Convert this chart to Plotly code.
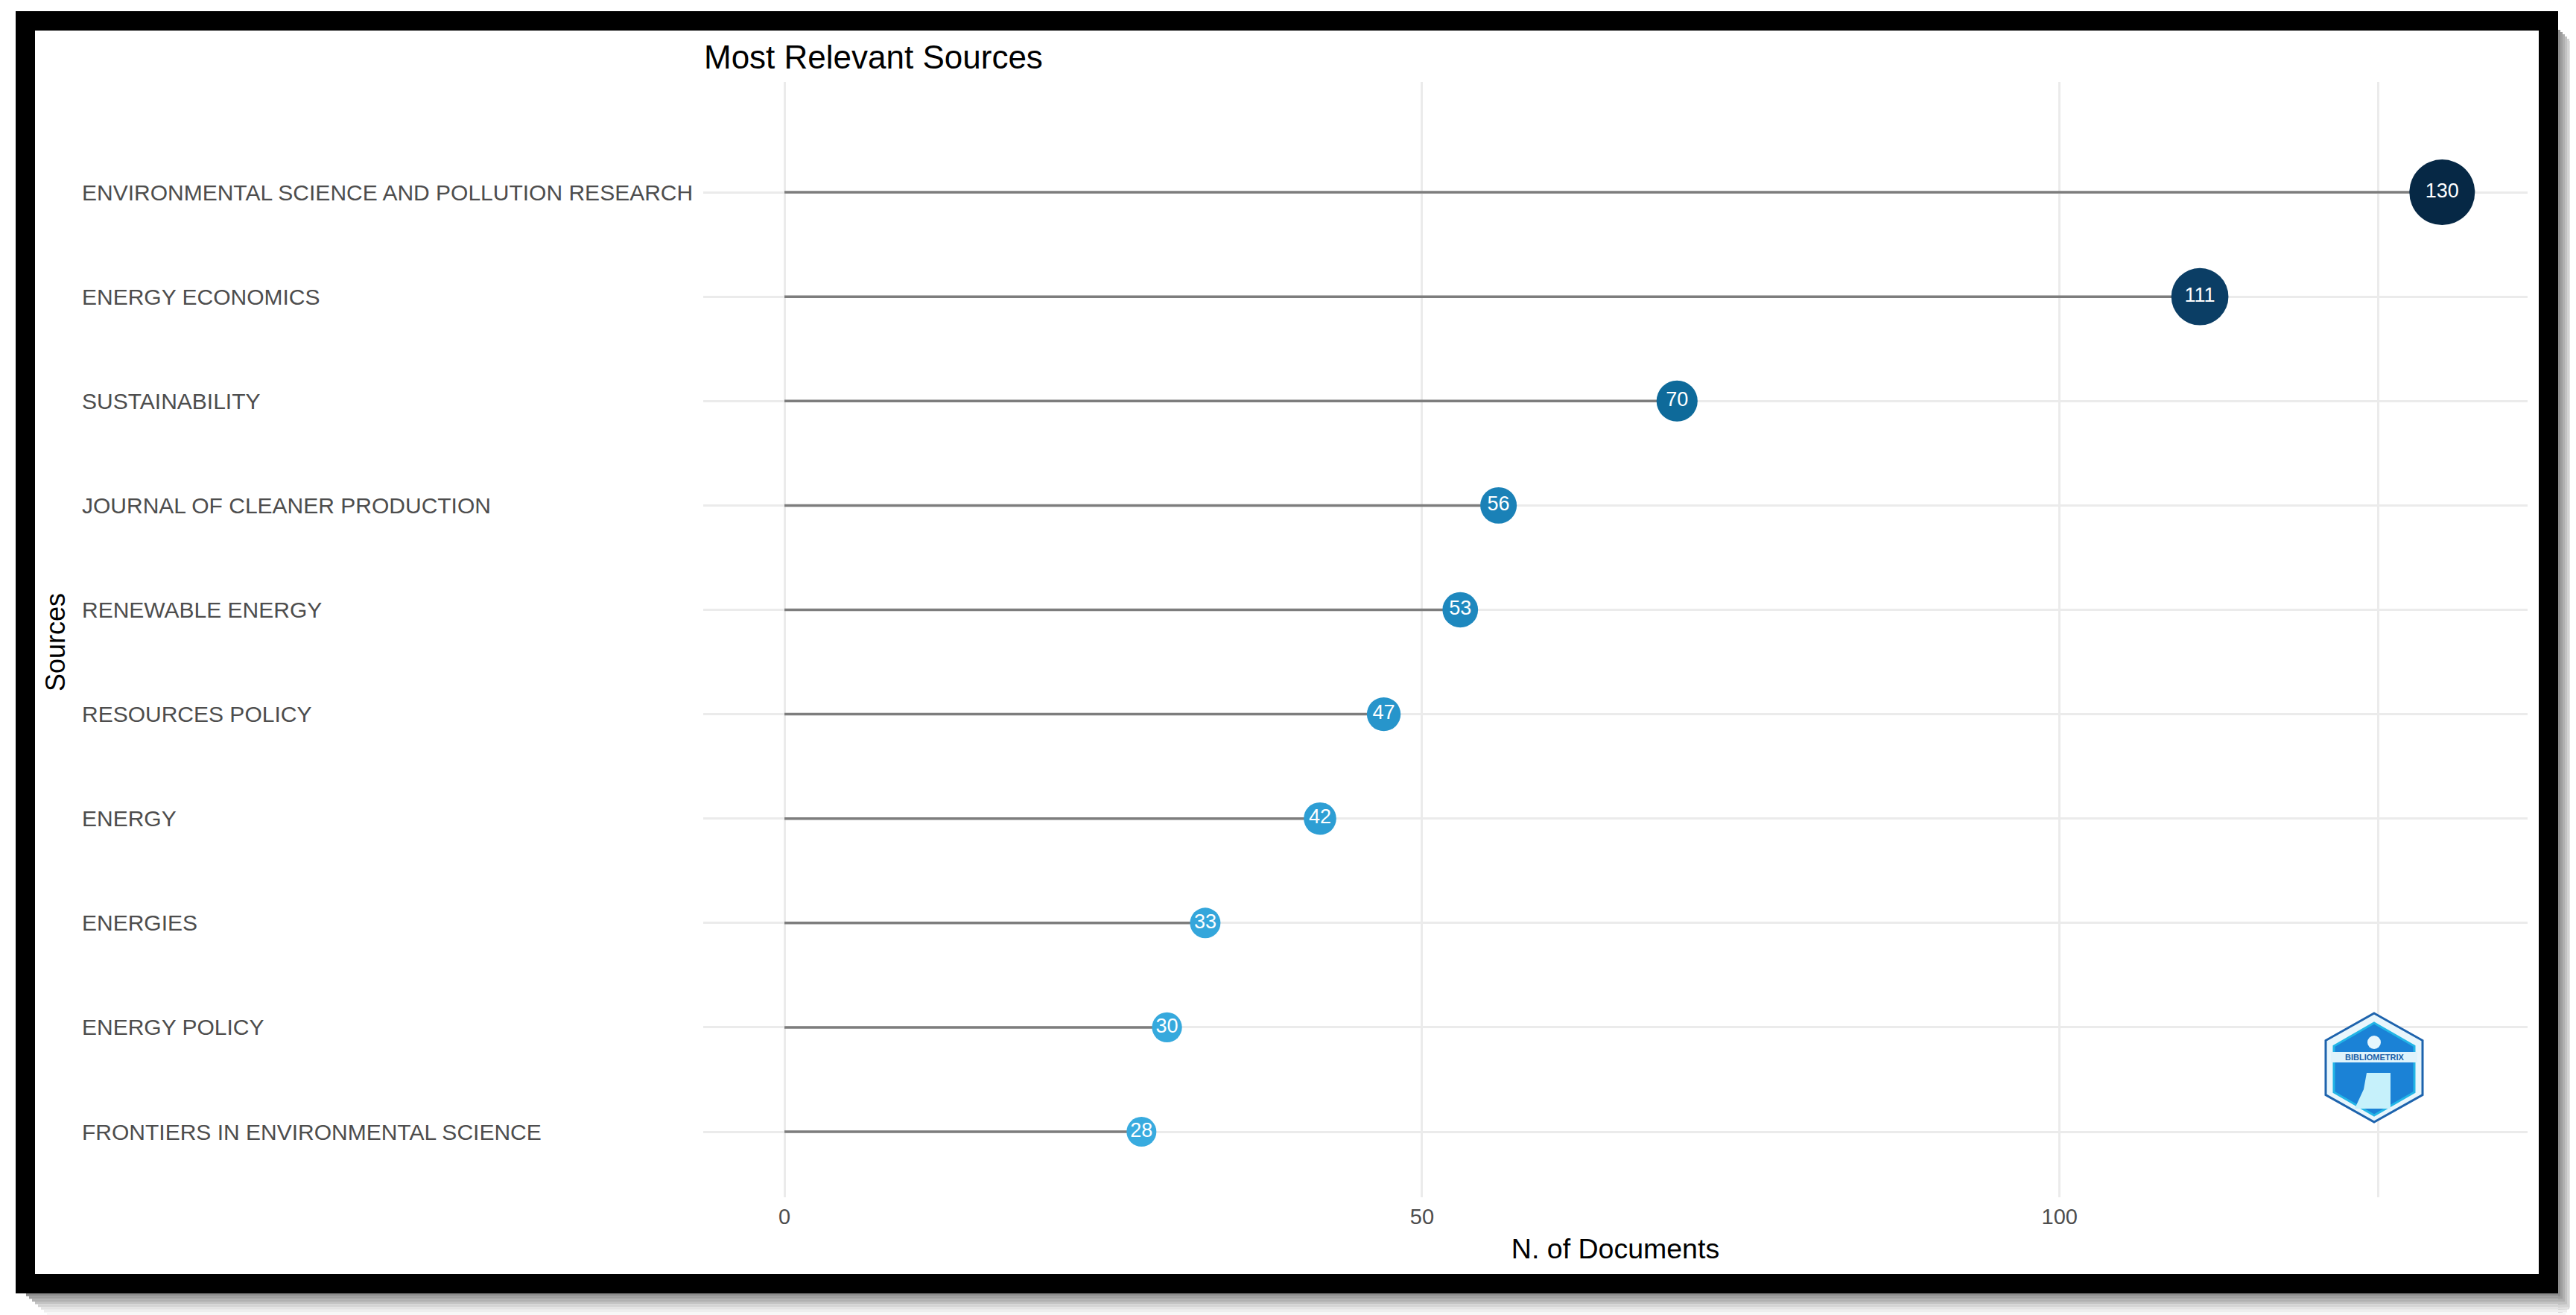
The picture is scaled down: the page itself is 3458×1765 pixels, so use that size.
import plotly.graph_objects as go

# ---------------- data ----------------
sources = [
    "ENVIRONMENTAL SCIENCE AND POLLUTION RESEARCH",
    "ENERGY ECONOMICS",
    "SUSTAINABILITY",
    "JOURNAL OF CLEANER PRODUCTION",
    "RENEWABLE ENERGY",
    "RESOURCES POLICY",
    "ENERGY",
    "ENERGIES",
    "ENERGY POLICY",
    "FRONTIERS IN ENVIRONMENTAL SCIENCE",
]
documents = [130, 111, 70, 56, 53, 47, 42, 33, 30, 28]
x_ticks = [0, 50, 100, 125]
x_tick_labels = ["0", "50", "100", ""]

# ---------------- geometry helpers (reference pixel -> paper) ----------------
PAGE_W, PAGE_H = 3458, 1765
OFF = 8  # browser default body margin
W, H = PAGE_W - OFF, PAGE_H - OFF
L, R, T, B = 944, 3393, 110, 1607
PW, PH = R - L, B - T


def px(x):
    return (x - L) / PW


def py(y):
    return (B - y) / PH


FONT = "Liberation Sans, Arial, sans-serif"

vmin, vmax = min(documents), max(documents)
sizes = [40 + 48 * ((v - vmin) / (vmax - vmin)) ** 1.3 for v in documents]

# lollipop stems
seg_x, seg_y = [], []
for s, v in zip(sources, documents):
    seg_x += [0, v, None]
    seg_y += [s, s, None]

fig = go.Figure()
fig.add_trace(go.Scatter(
    x=seg_x, y=seg_y, mode="lines",
    line=dict(color="#7d7d7d", width=3.5),
    hoverinfo="skip", showlegend=False,
))
fig.add_trace(go.Scatter(
    x=documents, y=sources, mode="markers+text",
    text=[str(v) for v in documents],
    textposition="middle center",
    textfont=dict(color="white", size=27, family=FONT),
    marker=dict(
        size=sizes, sizemode="diameter",
        color=documents, cmin=vmin, cmax=vmax,
        colorscale=[[0.0, "#38abdf"], [0.15, "#2c9dd3"], [0.27, "#1a82b8"],
                    [0.41, "#0e6a9a"], [0.81, "#0b3e66"], [1.0, "#062845"]],
        line=dict(width=0), opacity=1,
    ),
    showlegend=False,
))

# source labels (left aligned, like the reference)
annotations = []
for s in sources:
    annotations.append(dict(
        x=px(108), y=s, xref="paper", yref="y", text=s, showarrow=False,
        xanchor="left", yanchor="middle",
        font=dict(size=30, color="#4d4d4d", family=FONT),
    ))
annotations.append(dict(
    x=px(74), y=py(862), xref="paper", yref="paper", text="Sources",
    showarrow=False, textangle=-90, xanchor="center", yanchor="middle",
    font=dict(size=36, color="black", family=FONT),
))

shapes = []
# shadow (gradient strips)
shadow_cols = ["#8c8c8c", "#9e9e9e", "#b0b0b0", "#c2c2c2", "#d3d3d3", "#e2e2e2", "#eeeeee", "#f7f7f7"]
n = len(shadow_cols)
for i, c in enumerate(shadow_cols):
    x0 = 3434 + i * (24 / n)
    x1 = 3434 + (i + 1) * (24 / n)
    shapes.append(dict(type="rect", xref="paper", yref="paper",
                       x0=px(x0), x1=px(x1), y0=py(40 + i * 3), y1=py(1736 + 29 - 2 * i),
                       fillcolor=c, line=dict(width=0), layer="above"))
    y0 = 1736 + i * (29 / n)
    y1 = 1736 + (i + 1) * (29 / n)
    shapes.append(dict(type="rect", xref="paper", yref="paper",
                       x0=px(35 + i * 4), x1=px(3434 + 24 - i * 2), y0=py(y0), y1=py(y1),
                       fillcolor=c, line=dict(width=0), layer="above"))
# black frame
for (x0, y0, x1, y1) in [(21, 15, 3434, 41), (21, 1710, 3434, 1736),
                         (21, 15, 47, 1736), (3408, 15, 3434, 1736)]:
    shapes.append(dict(type="rect", xref="paper", yref="paper",
                       x0=px(x0), x1=px(x1), y0=py(y0), y1=py(y1),
                       fillcolor="black", line=dict(width=0), layer="above"))


# logo (approximate bibliometrix hexagon)
def hexpath(cx, cy, w, h):
    pts = [(cx, cy - h / 2), (cx + w / 2, cy - h / 4), (cx + w / 2, cy + h / 4),
           (cx, cy + h / 2), (cx - w / 2, cy + h / 4), (cx - w / 2, cy - h / 4)]
    return "M " + " L ".join(f"{px(a):.5f},{py(b):.5f}" for a, b in pts) + " Z"


cx, cy = 3187, 1433
shapes.append(dict(type="path", xref="paper", yref="paper", path=hexpath(cx, cy, 130, 146),
                   fillcolor="#e8f6fc", line=dict(color="#1d63ad", width=3), layer="above"))
shapes.append(dict(type="path", xref="paper", yref="paper", path=hexpath(cx, cy + 2, 108, 124),
                   fillcolor="#1b82d6", line=dict(color="#22b5e6", width=3), layer="above"))
shapes.append(dict(type="rect", xref="paper", yref="paper",
                   x0=px(cx - 58), x1=px(cx + 58), y0=py(1412), y1=py(1426),
                   fillcolor="#dff3fb", line=dict(width=0), layer="above"))
shapes.append(dict(type="path", xref="paper", yref="paper",
                   path=(f"M {px(cx-10):.5f},{py(1440):.5f} L {px(cx+22):.5f},{py(1440):.5f} "
                         f"L {px(cx+22):.5f},{py(1488):.5f} L {px(cx-26):.5f},{py(1488):.5f} "
                         f"L {px(cx-14):.5f},{py(1462):.5f} Z"),
                   fillcolor="#c6f1fb", line=dict(width=0), layer="above"))
shapes.append(dict(type="circle", xref="paper", yref="paper",
                   x0=px(cx - 9), x1=px(cx + 9), y0=py(1390), y1=py(1408),
                   fillcolor="#e6f7fd", line=dict(width=0), layer="above"))
annotations.append(dict(x=px(cx), y=py(1419), xref="paper", yref="paper",
                        text="<b>BIBLIOMETRIX</b>", showarrow=False,
                        xanchor="center", yanchor="middle",
                        font=dict(size=11, color="#1a5fa8", family=FONT)))

fig.update_layout(
    width=W, height=H,
    margin=dict(l=L - OFF, r=PAGE_W - R, t=T - OFF, b=PAGE_H - B, autoexpand=False),
    paper_bgcolor="white", plot_bgcolor="white",
    title=dict(text="Most Relevant Sources", x=(945 - OFF) / W, xanchor="left", xref="container",
               y=1 - (77 - OFF) / H, yanchor="middle", yref="container",
               font=dict(size=44, color="black", family=FONT)),
    xaxis=dict(
        range=[-6.37, 136.7], tickvals=x_ticks, ticktext=x_tick_labels,
        showgrid=True, gridcolor="#ebebeb", gridwidth=3, zeroline=False,
        showline=False, ticks="", automargin=False,
        tickfont=dict(size=29, color="#4d4d4d", family=FONT),
        ticklabelstandoff=6,
        title=dict(text="N. of Documents", standoff=14,
                   font=dict(size=37.5, color="black", family=FONT)),
    ),
    yaxis=dict(
        type="category", categoryorder="array", categoryarray=sources[::-1],
        range=[-0.628, 10.057], showgrid=True, gridcolor="#ebebeb", gridwidth=3,
        zeroline=False, showline=False, ticks="", showticklabels=False,
        automargin=False,
    ),
    annotations=annotations,
    shapes=shapes,
    showlegend=False,
)

fig.write_html("out.html")
